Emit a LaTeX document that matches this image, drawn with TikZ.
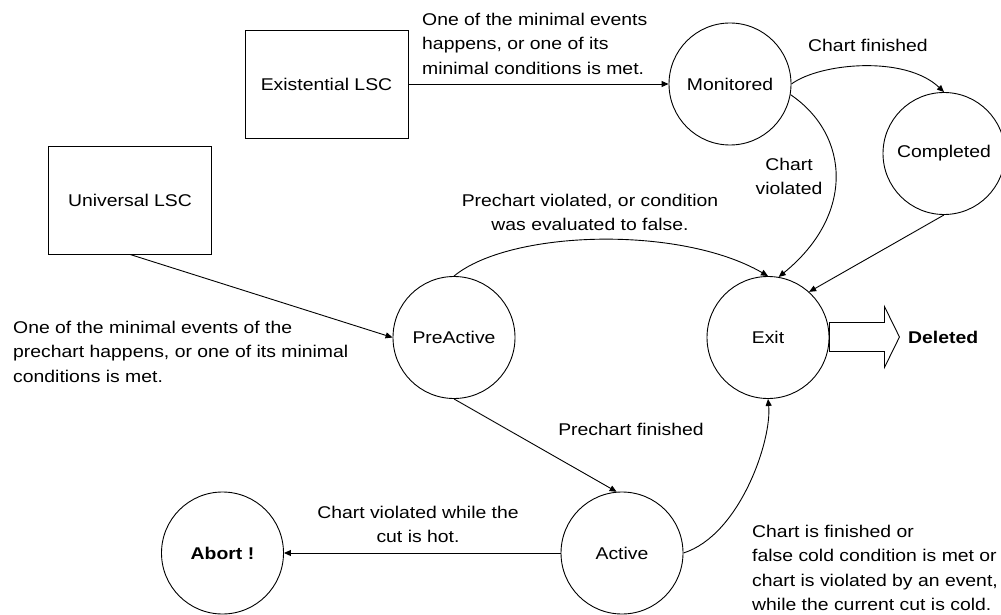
\documentclass[tikz,border=0pt]{standalone}
\usepackage{fontspec}
\setmainfont{Liberation Sans}[FakeStretch=1.14]
\usetikzlibrary{arrows.meta}
\begin{document}
\begin{tikzpicture}[x=1pt,y=-1pt,
  every node/.style={font=\fontsize{17}{24.5}\selectfont},
  state/.style={draw,circle,minimum size=122pt,inner sep=0pt,line width=0.9pt},
  lscbox/.style={draw,rectangle,minimum width=163pt,minimum height=108pt,inner sep=0pt,line width=0.9pt},
  link/.style={line width=0.9pt,-{Triangle[length=7pt,width=6pt]}},
  blockarrow/.style={line width=0.9pt,fill=white},
  note/.style={inner sep=0pt}
]
\useasboundingbox (0,0) rectangle (1001,615);

% chart kinds
\node[lscbox] (ex) at (326.5,84) {Existential LSC};
\node[lscbox] (uni) at (130,200) {Universal LSC};

% states
\node[state] (mon) at (730,84) {Monitored};
\node[state] (comp) at (944,153.5) {Completed};
\node[state] (exit) at (768,337.5) {Exit};
\node[state] (pre) at (454,337.5) {PreActive};
\node[state] (act) at (622,553) {Active};
\node[state] (abort) at (222.5,553) {\textbf{Abort !}};

% transitions
\draw[link] (ex.east) -- (mon.west);
\draw[link] (uni.south) -- (pre.west);
\draw[link] (mon.east) .. controls (820,63) and (905,55) .. (comp.north);
\draw[link] (mon.-10) .. controls (850,135) and (855,215) .. (exit.80);
\draw[link] (pre.north) .. controls (510,230) and (680,225) .. (exit.north);
\draw[link] (comp.south) -- (exit.48);
\draw[link] (pre.south) -- (act.95);
\draw[link] (act.west) -- (abort.east);
\draw[link] (act.east) .. controls (740,535) and (772,440) .. (exit.south);

% exit leads to deletion
\draw[blockarrow] ([yshift=15pt]exit.east) -- ++(55,0) -- ++(0,-16) -- ++(15,30.5)
  -- ++(-15,30.5) -- ++(0,-16) -- ++(-55,0) -- cycle;
\node[note,anchor=west] (del) at (908,337.5) {\textbf{Deleted}};

% transition labels
\node[note,anchor=north west,align=left] (lbl-ex) at (422,12.6)
  {One of the minimal events\\happens, or one of its\\minimal conditions is met.};
\node[note,anchor=north west,align=left] (lbl-uni) at (13,320.6)
  {One of the minimal events of the\\prechart happens, or one of its minimal\\conditions is met.};
\node[note] (lbl-fin) at (868,45.5) {Chart finished};
\node[note,anchor=north,align=center] (lbl-viol) at (789,157.6) {Chart\\violated};
\node[note,anchor=north,align=center] (lbl-prev) at (590,193.6)
  {Prechart violated, or condition\\was evaluated to false.};
\node[note,anchor=north] (lbl-pref) at (631,422.6) {Prechart finished};
\node[note,anchor=north,align=center] (lbl-hot) at (418,505.6)
  {Chart violated while the\\cut is hot.};
\node[note,anchor=north west,align=left] (lbl-cold) at (752,524.6)
  {Chart is finished or\\false cold condition is met or\\chart is violated by an event,\\while the current cut is cold.};
\end{tikzpicture}
\end{document}
